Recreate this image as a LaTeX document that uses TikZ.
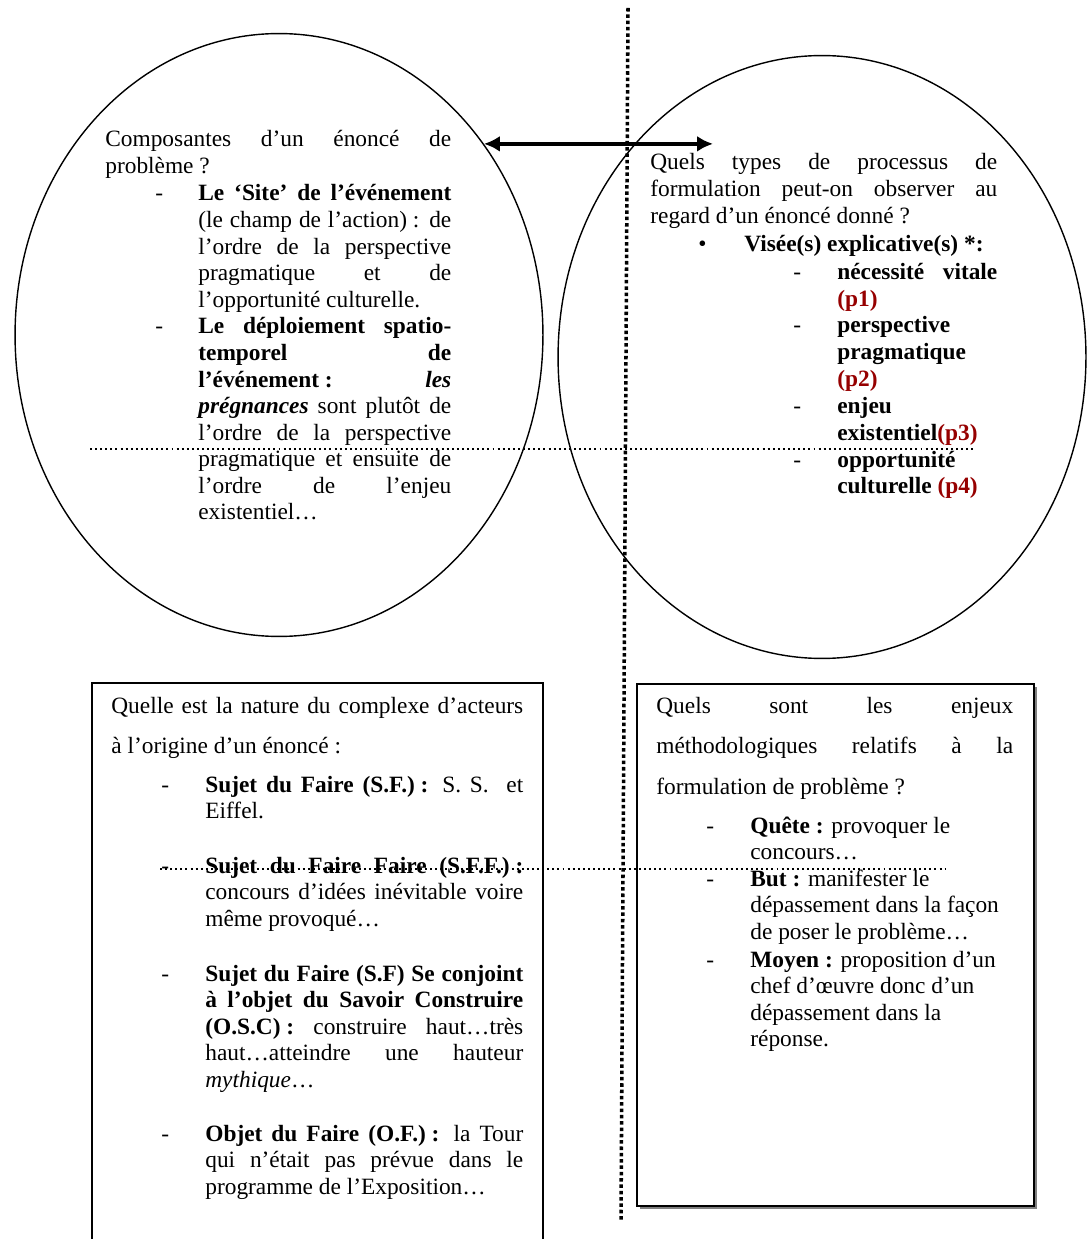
\documentclass[tikz,border=0pt]{standalone}
\usepackage{fontspec}
\setmainfont{Liberation Serif}
\usetikzlibrary{arrows.meta}
\usetikzlibrary{shapes.geometric}

\definecolor{prouge}{RGB}{150,0,0}
\newcommand{\rouge}[1]{\textcolor{prouge}{#1}}
\newcommand{\deuxp}{\nobreak\hspace{0.25em}:}
\hyphenpenalty=10000
\exhyphenpenalty=10000
\tolerance=9999

\begin{document}
\begin{tikzpicture}[
    x=0.02cm, y=-0.02cm,
    % Shapes
    bulle/.style={draw, ellipse, line width=0.8pt, minimum width=10.56cm, minimum height=12.06cm, inner sep=0pt},
    cadre/.style={draw, line width=1pt},
    fleche/.style={{Latex[length=9pt,width=9pt]}-{Latex[length=9pt,width=9pt]}, line width=2.3pt},
    grospoints/.style={line width=2pt, dash pattern=on 2pt off 1.6pt},
    petitspoints/.style={line width=1.1pt, dash pattern=on 1.1pt off 1.8pt},
    % Texts
    txt/.style={anchor=base west, inner sep=0pt, align=justify, font=\fontsize{13.3}{15.1}\selectfont},
    txtd/.style={txt, font=\fontsize{13.3}{23.2}\selectfont},
    lbl/.style={anchor=base west, inner sep=0pt, align=flush left, font=\fontsize{13.3}{15.1}\selectfont},
    tiret/.style={lbl}
]

\useasboundingbox (0,0) rectangle (1086,1239);

% Ellipses
\node[bulle] (lell) at (279,335) {};
\node[bulle] (rell) at (822,357) {};

% Boxes
\draw[cadre] (92,1245) -- (92,683) -- (543,683) -- (543,1245);
\draw[gray, line width=1pt] (1036,687) -- (1036,1208) -- (640,1208);
\node[cadre, anchor=north west, minimum width=7.94cm, minimum height=10.44cm, inner sep=0pt] (rboite) at (636,683) {};

% Left ellipse text
\node[txt, text width=6.92cm] (lq) at (105,147) {Composantes d’un énoncé de\linebreak problème ?};
\node[tiret] (ld1) at (155,201) {-};
\node[txt, text width=5.06cm] (li1) at (198,201) {\textbf{Le ‘Site’ de l’événement}\linebreak (le champ de l’action)\deuxp{} de\linebreak l’ordre de la perspective\linebreak pragmatique et de\linebreak l’opportunité culturelle.};
\node[tiret] (ld2) at (155,334) {-};
\node[txt, text width=5.06cm] (li2) at (198,334) {\textbf{Le déploiement spatio-\linebreak temporel de\linebreak l’événement\deuxp{} \textit{les}\linebreak \textit{prégnances}} sont plutôt de\linebreak l’ordre de la perspective\linebreak pragmatique et ensuite de\linebreak l’ordre de l’enjeu\linebreak existentiel…};

% Right ellipse text
\node[txt, text width=6.94cm] (rq) at (650,170) {Quels types de processus de\linebreak formulation peut-on observer au\linebreak regard d’un énoncé donné ?};
\node[tiret] (rb) at (698,252) {•};
\node[lbl] (rv) at (744,252) {\textbf{Visée(s) explicative(s) *:}};
\node[tiret] (rd1) at (793,280) {-};
\node[txt, text width=3.2cm] (rs1) at (837,280) {\textbf{nécessité vitale}\linebreak \textbf{\rouge{(p1)}}};
\node[tiret] (rd2) at (793,333) {-};
\node[lbl, text width=3.2cm] (rs2) at (837,333) {\textbf{perspective}\\ \textbf{pragmatique}\\ \textbf{\rouge{(p2)}}};
\node[tiret] (rd3) at (793,414) {-};
\node[lbl, text width=3.2cm] (rs3) at (837,414) {\textbf{enjeu}\\ \textbf{existentiel\rouge{(p3)}}};
\node[tiret] (rd4) at (793,467) {-};
\node[lbl, text width=3.2cm] (rs4) at (837,467) {\textbf{opportunité}\\ \textbf{culturelle \rouge{(p4)}}};

% Left box text
\node[txtd, text width=8.24cm] (bq) at (111,713) {Quelle est la nature du complexe d’acteurs\linebreak à l’origine d’un énoncé :};
\node[tiret] (bd1) at (161,792) {-};
\node[txt, text width=6.36cm] (bi1) at (205,792) {\textbf{Sujet du Faire (S.F.)\deuxp} S. S.\ \ et\linebreak Eiffel.};
\node[tiret] (bd2) at (161,873) {-};
\node[txt, text width=6.36cm] (bi2) at (205,873) {\textbf{Sujet du Faire Faire (S.F.F.)\deuxp}\linebreak concours d’idées inévitable voire\linebreak même provoqué…};
\node[tiret] (bd3) at (161,981) {-};
\node[txt, text width=6.36cm] (bi3) at (205,981) {\textbf{Sujet du Faire (S.F) Se conjoint\linebreak à l’objet du Savoir Construire\linebreak (O.S.C)\deuxp} construire haut…très\linebreak haut…atteindre une hauteur\linebreak \textit{mythique}…};
\node[tiret] (bd4) at (161,1141) {-};
\node[txt, text width=6.36cm] (bi4) at (205,1141) {\textbf{Objet du Faire (O.F.)\deuxp} la Tour\linebreak qui n’était pas prévue dans le\linebreak programme de l’Exposition…};

% Right box text
\node[txtd, text width=7.14cm] (cq) at (656,713) {Quels sont les enjeux\linebreak méthodologiques relatifs à la\linebreak formulation de problème ?};
\node[tiret] (cd1) at (706,833) {-};
\node[lbl, text width=5.3cm] (ci1) at (750,833) {\textbf{Quête\deuxp} provoquer le\\ concours…};
\node[tiret] (cd2) at (706,886) {-};
\node[lbl, text width=5.3cm] (ci2) at (750,886) {\textbf{But\deuxp} manifester le\\ dépassement dans la façon\\ de poser le problème…};
\node[tiret] (cd3) at (706,967) {-};
\node[lbl, text width=5.3cm] (ci3) at (750,967) {\textbf{Moyen\deuxp} proposition d’un\\ chef d’œuvre donc d’un\\ dépassement dans la\\ réponse.};

% Double arrow between the ellipses
\coordinate (pointe) at (713,146);
\draw[fleche] (lell.43) -- (lell.43 -| pointe);

% Dotted guide lines
\coordinate (vhaut) at (628,8);
\coordinate (vbas) at (621,1220);
\draw[grospoints] (vhaut) -- (vbas);
\coordinate (h1g) at (90,449);
\coordinate (h1d) at (975,449);
\draw[petitspoints] (h1g) -- (h1d);
\coordinate (h2g) at (160,869);
\coordinate (h2d) at (945,869);
\draw[petitspoints] (h2g) -- (h2d);

\end{tikzpicture}
\end{document}
